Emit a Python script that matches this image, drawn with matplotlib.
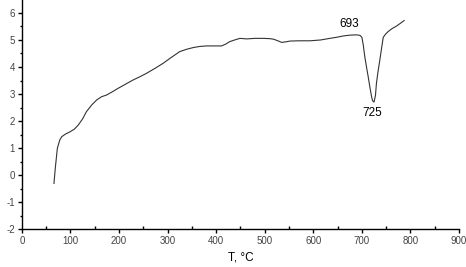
import matplotlib
matplotlib.use('Agg')
import matplotlib.pyplot as plt
from matplotlib.ticker import MultipleLocator

plt.rcParams['font.family'] = ['Liberation Sans', 'DejaVu Sans']
plt.rcParams['axes.unicode_minus'] = False

# curve (T in °C, signal)
temp = [66, 69, 73, 78, 82, 90, 99, 108, 116, 125, 133, 144, 154, 164, 174, 186,
        198, 214, 229, 243, 257, 274, 291, 308, 325, 340, 353, 366, 380, 395, 411,
        420, 428, 438, 449, 463, 480, 497, 510, 518, 527, 535, 543, 552, 570, 593,
        615, 634, 648, 662, 676, 689, 696, 700, 703, 706, 710, 713, 717, 720, 722,
        725, 728, 730, 733, 737, 741, 744, 749, 754, 762, 770, 778, 787]
signal = [-0.31, 0.3, 0.99, 1.3, 1.42, 1.52, 1.6, 1.7, 1.85, 2.08, 2.35, 2.6, 2.78, 2.9, 2.96,
          3.08, 3.21, 3.37, 3.52, 3.64, 3.77, 3.95, 4.14, 4.36, 4.57, 4.66, 4.72, 4.76,
          4.78, 4.78, 4.78, 4.85, 4.94, 5.0, 5.06, 5.04, 5.06, 5.06, 5.05, 5.03, 4.97,
          4.91, 4.93, 4.96, 4.97, 4.97, 5.0, 5.06, 5.1, 5.15, 5.18, 5.19, 5.17, 5.1,
          4.8, 4.38, 3.95, 3.64, 3.2, 2.9, 2.75, 2.7, 2.95, 3.4, 3.8, 4.26, 4.75, 5.1,
          5.22, 5.31, 5.42, 5.5, 5.6, 5.72]

fig = plt.figure(figsize=(4.66, 2.67), dpi=100)
ax = fig.add_axes([0.047, 0.142, 0.938, 0.858])
ax.plot(temp, signal, color='#333333', lw=0.8)

ax.set_xlim(0, 900)
ax.set_ylim(-2, 6.48)
ax.xaxis.set_major_locator(MultipleLocator(100))
ax.xaxis.set_minor_locator(MultipleLocator(50))
ax.yaxis.set_major_locator(MultipleLocator(1))
ax.yaxis.set_minor_locator(MultipleLocator(0.5))
ax.spines['top'].set_visible(False)
ax.spines['right'].set_visible(False)
for s in ('left', 'bottom'):
    ax.spines[s].set_linewidth(1.0)
ax.tick_params(which='major', direction='out', length=3, width=1, labelsize=7,
               labelcolor='#444444', pad=2)
ax.tick_params(axis='x', which='minor', direction='in', length=2, width=1)
ax.tick_params(axis='y', which='minor', direction='out', length=1.5, width=1)

ax.text(674, 5.59, '693', fontsize=8.5, ha='center', va='center')
ax.text(722, 2.29, '725', fontsize=8.5, ha='center', va='center')
ax.set_xlabel('T, °C', fontsize=8.5, labelpad=4)

fig.savefig('out.png', dpi=100)
